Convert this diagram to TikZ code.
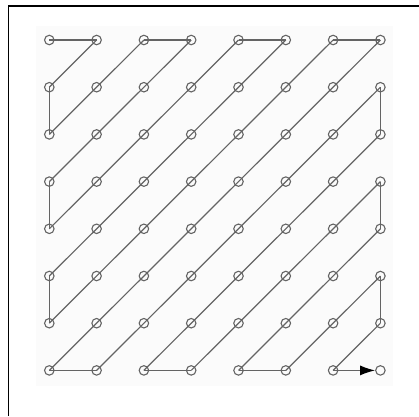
\documentclass[tikz,border=0pt]{standalone}
\usetikzlibrary{arrows.meta}
\definecolor{lin}{RGB}{100,100,100}
\begin{document}
\begin{tikzpicture}[x=1pt,y=-1pt,
  dot/.style={circle,draw=lin,line width=1.1pt,minimum size=9.5pt,inner sep=0pt},
  scanline/.style={draw=lin,line width=1.2pt},
  frameline/.style={draw=black,line width=1.6pt}]
\useasboundingbox (0,0) rectangle (419,416);
\fill[black!1.5] (36,26) rectangle (393,386);
\draw[frameline] (8.5,416) -- (8.5,6) -- (419,6);
\foreach \i in {0,...,7}{
  \foreach \j in {0,...,7}{
    \node[dot] (n\i\j) at ({49.3+47.3*\i},{40+47.2*\j}) {};
  }
}
\foreach \a/\b in {00/10,10/01,01/02,02/20,20/30,30/03,03/04,04/40,40/50,50/05,05/06,06/60,60/70,70/07,07/17,17/71,71/72,72/27,27/37,37/73,73/74,74/47,47/57,57/75,75/76,76/67}
  \draw[scanline] (n\a.center) -- (n\b.center);
\draw[scanline,-{Latex[length=15pt,width=10pt,color=black,fill=black]}] (n67.center) -- (n77);
\end{tikzpicture}
\end{document}
